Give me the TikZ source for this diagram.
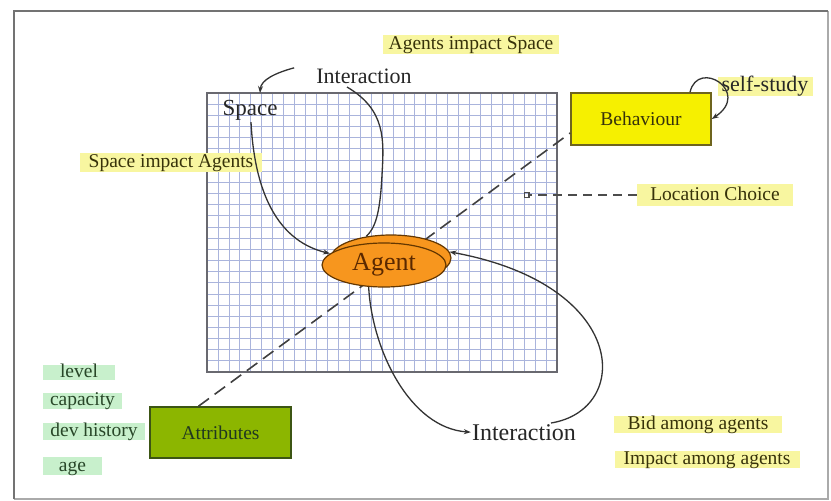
\documentclass[tikz,border=0pt]{standalone}
\usepackage{fontspec}
\setmainfont{Liberation Serif}
\usetikzlibrary{shapes.geometric,arrows.meta,calc}
\definecolor{hlyel}{RGB}{248,246,160}
\definecolor{hlgrn}{RGB}{200,240,204}
\definecolor{gridc}{RGB}{170,180,220}
\definecolor{gridb}{RGB}{105,105,112}
\definecolor{behfill}{RGB}{246,240,0}
\definecolor{behdraw}{RGB}{110,100,30}
\definecolor{attfill}{RGB}{140,182,0}
\definecolor{attdraw}{RGB}{60,85,20}
\definecolor{agfill}{RGB}{247,150,30}
\definecolor{agdraw}{RGB}{100,55,0}
\definecolor{agtext}{RGB}{90,40,0}
\definecolor{oltext}{RGB}{55,50,10}
\definecolor{gntext}{RGB}{40,70,40}
\definecolor{frdark}{RGB}{115,115,115}
\definecolor{frlight}{RGB}{170,170,170}
\newcommand{\fsz}[1]{\fontsize{#1}{#1}\selectfont}
\begin{document}
\begin{tikzpicture}[x=1pt,y=-1pt,
  yhl/.style={fill=hlyel, text=oltext, inner sep=0pt, font=\fsz{19.5}, text height=11pt, text depth=1pt},
  ghl/.style={fill=hlgrn, text=gntext, inner sep=0pt, font=\fsz{19.5}, text height=11pt, text depth=1pt},
  plain/.style={text=black!85, inner sep=0pt},
  conn/.style={line width=1.3pt, draw=black!80},
  tip/.style={-{Stealth[length=7pt,width=5pt]}},
  boxst/.style={line width=1.6pt, inner sep=0pt, font=\fsz{19.5}},
  agentst/.style={ellipse, fill=agfill, draw=agdraw, line width=1.2pt, inner sep=0pt},
  diag/.style={line width=1.6pt, draw=black!75, dash pattern=on 13pt off 7pt}
]
\useasboundingbox (0,0) rectangle (831,501);
\fill[white] (0,0) rectangle (831,501);
% frame
\draw[frlight, line width=1.2pt] (828,11) -- (828,499) -- (14,499);
\draw[frdark, line width=1.6pt] (14,499) -- (14,11) -- (828,11);

% grid (space)
\fill[white] (207,93) rectangle (557,372);
\foreach \i in {1,...,31} \draw[gridc, line width=0.7pt] ({207+\i*350/32},93) -- ({207+\i*350/32},372);
\foreach \j in {1,...,24} \draw[gridc, line width=0.7pt] (207,{93+\j*279/25}) -- (557,{93+\j*279/25});
\draw[gridb, line width=1.6pt] (207,93) rectangle (557,372);
\coordinate (spacetop) at (260,93);

% boxes
\node[boxst, draw=behdraw, fill=behfill, text=oltext, minimum width=140, minimum height=52] (behaviour) at (641,119) {Behaviour};
\node[boxst, draw=attdraw, fill=attfill, text=gntext!80!black, minimum width=141, minimum height=51] (attributes) at (220.5,432.5) {Attributes};

% main dashed diagonal
\draw[diag] ($(attributes.north)+(-22,0)$) -- ($(behaviour.west)+(0,14)$);

% agent
\node[agentst, minimum width=120, minimum height=46] (agentback) at (391,258) {};
\node[agentst, minimum width=124, minimum height=44, font=\fsz{26}, text=agtext] (agent) at (384,265) {Agent};

% texts
\node[plain, font=\fsz{22}, anchor=base] (interTop) at (364,83) {Interaction};
\node[plain, font=\fsz{23}, anchor=base] (space) at (250,115) {Space};
\node[plain, font=\fsz{24}, anchor=base] (interBot) at (524,440) {Interaction};

\node[yhl, minimum width=176, minimum height=19] (ais) at (471,44) {Agents impact Space};
\node[yhl, minimum width=182, minimum height=19] (sia) at (171,162.5) {Space impact Agents};
\node[yhl, font=\fsz{22}, text=black!85, text height=13pt, text depth=2pt, minimum width=95, minimum height=19] (selfstudy) at (765,86) {self-study};
\node[yhl, minimum width=156, minimum height=22] (loc) at (715,195) {Location Choice};
\node[yhl, minimum width=168, minimum height=17] (bid) at (698,424.5) {Bid among agents};
\node[yhl, minimum width=185, minimum height=17] (impact) at (707,459) {Impact among agents};

\node[ghl, minimum width=72, minimum height=15] (level) at (79,372) {level};
\node[ghl, minimum width=79, minimum height=16] (capacity) at (82.5,400.5) {capacity};
\node[ghl, minimum width=102, minimum height=17] (devhist) at (94,431.5) {dev history};
\node[ghl, minimum width=59, minimum height=18] (age) at (72.5,466) {age};

% connectors
\draw[conn,tip] ($(interTop.west)+(-22,-8)$) .. controls (275,73) and (261,80) .. (spacetop);
\draw[conn,tip] ($(space.south)+(1,2)$) .. controls (255,200) and (282,242) .. (agent.168);
\draw[conn] ($(interTop.base)+(-17,4)$) .. controls (386,110) and (384,140) .. (382,175) .. controls (380,215) and (375,228) .. (agentback.139);
\draw[conn,tip] (agent.235) .. controls (372,350) and (410,428) .. ($(interBot.west)+(-1,0)$);
\draw[conn,tip] ($(interBot.base)+(27,-17)$) .. controls (632,410) and (630,285) .. (agentback.6);
\draw[conn,tip] ($(behaviour.north)+(49,0)$) .. controls (698,58) and (752,92) .. (behaviour.east);

\coordinate (locpt) at ($(loc.west)+(-113,0)$);
\draw[line width=1.4pt, draw=black!70, dash pattern=on 9pt off 6pt, -{Square[open,length=6pt,width=6pt]}] (loc.west) -- (locpt);
\end{tikzpicture}
\end{document}
